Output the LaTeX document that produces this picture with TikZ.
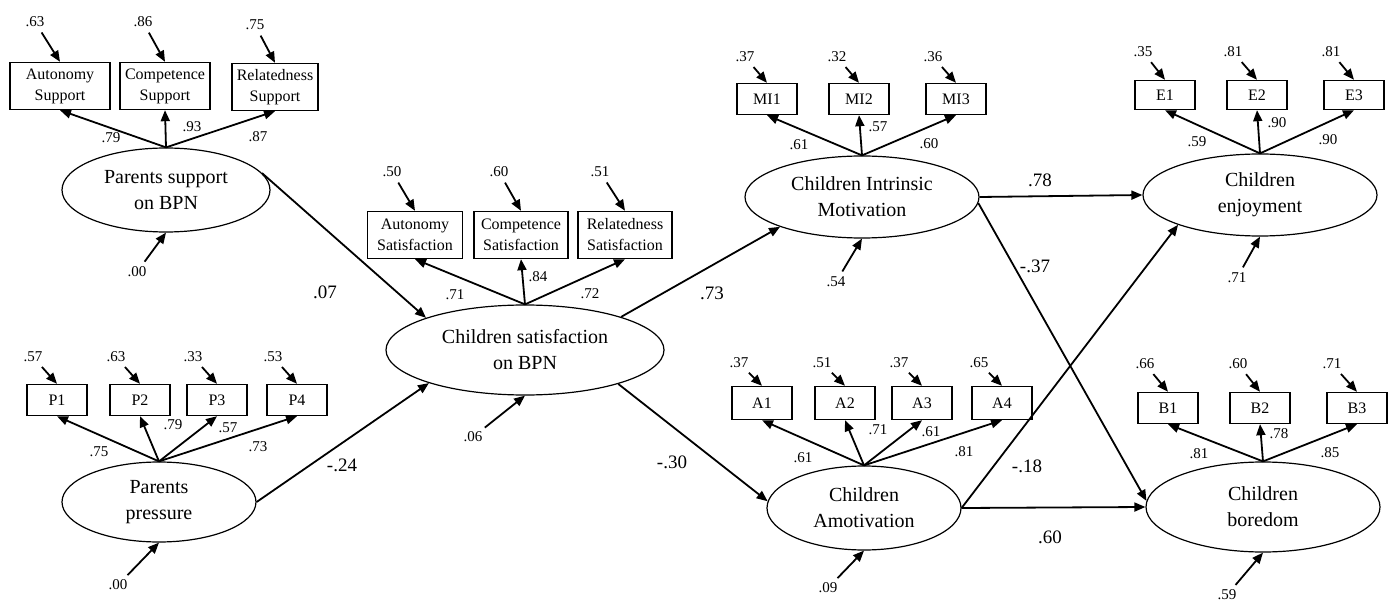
\documentclass[tikz,border=0pt]{standalone}
\usepackage{fontspec}
\setmainfont{Liberation Serif}
\usetikzlibrary{arrows.meta,shapes.geometric}

\tikzstyle{latent} = [draw, ellipse, line width=1.2pt, inner sep=0pt, align=center, font=\fontsize{20}{26}\selectfont]
\tikzstyle{obs} = [draw, rectangle, line width=1.4pt, minimum width=60pt, minimum height=31pt, inner sep=0pt, align=center, font=\fontsize{16}{21}\selectfont]
\tikzstyle{obstwo} = [obs, minimum height=47pt]
\tikzstyle{errlab} = [inner sep=1pt, font=\fontsize{15}{17}\selectfont]
\tikzstyle{loadlab} = [inner sep=1pt, font=\fontsize{15}{17}\selectfont]
\tikzstyle{pathlab} = [inner sep=1pt, font=\fontsize{19}{21}\selectfont]
\tikzstyle{arr} = [-{Triangle[length=11pt,width=9pt]}, line width=1.8pt]
\tikzstyle{errarr} = [arr, shorten <=5pt]

\begin{document}
\begin{tikzpicture}[x=1pt, y=-1pt]
    \useasboundingbox (0,0) rectangle (1388,601);

    % Latent variables
    \node[latent, minimum width=208pt, minimum height=84pt] (ps) at (166,190) {Parents support\\on BPN};
    \node[latent, minimum width=194pt, minimum height=80pt] (pp) at (159,502) {Parents\\pressure};
    \node[latent, minimum width=278pt, minimum height=90pt] (cs) at (525,350) {Children satisfaction\\on BPN};
    \node[latent, minimum width=234pt, minimum height=82pt] (cim) at (862,197) {Children Intrinsic\\Motivation};
    \node[latent, minimum width=194pt, minimum height=84pt] (ca) at (864,508) {Children\\Amotivation};
    \node[latent, minimum width=234pt, minimum height=82pt] (ce) at (1260,195) {Children\\enjoyment};
    \node[latent, minimum width=234pt, minimum height=90pt] (cb) at (1263,507) {Children\\boredom};

    % Parents support indicators
    \node[obstwo, minimum width=100pt] (psa) at (60,86) {Autonomy\\Support};
    \node[obstwo, minimum width=90pt] (psc) at (165,86) {Competence\\Support};
    \node[obstwo, minimum width=86pt] (psr) at (275,87) {Relatedness\\Support};
    \foreach \b/\e/\ex/\ey/\l/\lx/\ly in {psa/.63/35/22/.79/111/138, psc/.86/143/22/.93/192/127, psr/.75/255/25/.87/258/137} {
        \node[errlab] (\b-e) at (\ex,\ey) {\e};
        \draw[errarr] (\b-e) -- (\b.north);
        \draw[arr] (ps.north) -- (\b.south);
        \node[loadlab] (\b-l) at (\lx,\ly) {\l};
    }

    % Parents pressure indicators
    \foreach \i/\x/\e/\l/\lx/\ly in {1/57/.57/.75/99/452, 2/140/.63/.79/173/425, 3/217/.33/.57/228/428, 4/297/.53/.73/258/447} {
        \node[obs] (p\i) at (\x,400) {P\i};
        \node[errlab] (p\i-e) at (\x-24,357) {\e};
        \draw[errarr] (p\i-e) -- (p\i.north);
        \draw[arr] (pp.north) -- (p\i.south);
        \node[loadlab] (p\i-l) at (\lx,\ly) {\l};
    }

    % Children satisfaction indicators
    \node[obstwo, minimum width=95pt] (csa) at (415,235) {Autonomy\\Satisfaction};
    \node[obstwo, minimum width=94pt] (csc) at (521,235) {Competence\\Satisfaction};
    \node[obstwo, minimum width=94pt] (csr) at (625,235) {Relatedness\\Satisfaction};
    \foreach \b/\e/\ex/\l/\lx/\ly in {csa/.50/392/.71/455/295, csc/.60/499/.84/538/277, csr/.51/600/.72/590/294} {
        \node[errlab] (\b-e) at (\ex,172) {\e};
        \draw[errarr] (\b-e) -- (\b.north);
        \draw[arr] (cs.north) -- (\b.south);
        \node[loadlab] (\b-l) at (\lx,\ly) {\l};
    }

    % Intrinsic motivation indicators
    \foreach \i/\x/\e/\ex/\l/\lx/\ly in {1/767/.37/745/.61/799/145, 2/859/.32/837/.57/878/127, 3/956/.36/933/.60/929/144} {
        \node[obs] (mi\i) at (\x,99) {MI\i};
        \node[errlab] (mi\i-e) at (\ex,57) {\e};
        \draw[errarr] (mi\i-e) -- (mi\i.north);
        \draw[arr] (cim.north) -- (mi\i.south);
        \node[loadlab] (mi\i-l) at (\lx,\ly) {\l};
    }

    % Amotivation indicators
    \foreach \i/\x/\e/\l/\lx/\ly in {1/762/.37/.61/803/458, 2/845/.51/.71/878/430, 3/922/.37/.61/931/432, 4/1002/.65/.81/964/452} {
        \node[obs, minimum height=33pt] (a\i) at (\x,403) {A\i};
        \node[errlab] (a\i-e) at (\x-23,363) {\e};
        \draw[errarr] (a\i-e) -- (a\i.north);
        \draw[arr] (ca.north) -- (a\i.south);
        \node[loadlab] (a\i-l) at (\lx,\ly) {\l};
    }

    % Enjoyment indicators
    \foreach \i/\x/\e/\ex/\l/\lx/\ly in {1/1165/.35/1143/.59/1197/142, 2/1257/.81/1233/.90/1277/123, 3/1354/.81/1331/.90/1328/140} {
        \node[obs, minimum height=29pt] (e\i) at (\x,95) {E\i};
        \node[errlab] (e\i-e) at (\ex,52) {\e};
        \draw[errarr] (e\i-e) -- (e\i.north);
        \draw[arr] (ce.north) -- (e\i.south);
        \node[loadlab] (e\i-l) at (\lx,\ly) {\l};
    }

    % Boredom indicators
    \foreach \i/\x/\e/\ex/\l/\lx/\ly in {1/1168/.66/1145/.81/1199/454, 2/1260/.60/1238/.78/1279/434, 3/1357/.71/1332/.85/1330/453} {
        \node[obs] (b\i) at (\x,408) {B\i};
        \node[errlab] (b\i-e) at (\ex,364) {\e};
        \draw[errarr] (b\i-e) -- (b\i.north);
        \draw[arr] (cb.north) -- (b\i.south);
        \node[loadlab] (b\i-l) at (\lx,\ly) {\l};
    }

    % Residuals
    \foreach \v/\val/\x/\y in {ps/.00/137/272, pp/.00/118/585, cs/.06/473/437, cim/.54/836/282, ca/.09/828/588, ce/.71/1237/278, cb/.59/1227/595} {
        \node[errlab] (\v-r) at (\x,\y) {\val};
        \draw[errarr] (\v-r) -- (\v.south);
    }

    % Structural paths
    \draw[arr] (ps.10) -- (cs.162);
    \draw[arr] (pp.east) -- (cs.199);
    \draw[arr] (cs.19) -- (cim.200);
    \draw[arr] (cs.-20) -- (ca.176);
    \draw[arr] (cim.east) -- (ce.west);
    \draw[arr] (cim.-3) -- (cb.177);
    \draw[arr] (ca.east) -- (ce.200);
    \draw[arr] (ca.east) -- (cb.west);

    \node[pathlab] (ps-cs) at (325,292) {.07};
    \node[pathlab] (pp-cs) at (342,465) {-.24};
    \node[pathlab] (cs-cim) at (712,293) {.73};
    \node[pathlab] (cs-ca) at (672,462) {-.30};
    \node[pathlab] (cim-ce) at (1040,180) {.78};
    \node[pathlab] (cim-cb) at (1035,266) {-.37};
    \node[pathlab] (ca-ce) at (1027,466) {-.18};
    \node[pathlab] (ca-cb) at (1050,537) {.60};
\end{tikzpicture}
\end{document}
